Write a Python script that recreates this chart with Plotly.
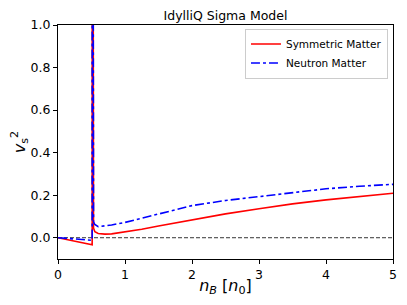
import plotly.graph_objects as go

# Symmetric matter
n_sym = [0.0, 0.1, 0.2, 0.3, 0.4, 0.51, 0.512, 0.518, 0.53, 0.55, 0.6, 0.7, 0.8, 1.0, 1.25, 1.5, 2.0, 2.5, 3.0, 3.5, 4.0, 4.5, 5.0]
cs2_sym = [0.0, -0.0065, -0.013, -0.0195, -0.026, -0.033, 3.0, 3.0, 0.045, 0.028, 0.02, 0.017, 0.018, 0.027, 0.04, 0.055, 0.085, 0.112, 0.136, 0.159, 0.178, 0.195, 0.209]

# Neutron matter
n_neu = [0.0, 0.1, 0.2, 0.3, 0.4, 0.51, 0.512, 0.518, 0.53, 0.55, 0.6, 0.7, 0.8, 1.0, 1.25, 1.5, 2.0, 2.5, 3.0, 3.5, 4.0, 4.5, 5.0]
cs2_neu = [0.0, -0.002, -0.004, -0.006, -0.009, -0.012, 3.0, 3.0, 0.075, 0.062, 0.052, 0.055, 0.06, 0.072, 0.092, 0.11, 0.151, 0.175, 0.194, 0.214, 0.23, 0.242, 0.251]

x_ticks = [0, 1, 2, 3, 4, 5]
y_ticks = [0.0, 0.2, 0.4, 0.6, 0.8, 1.0]

fig = go.Figure()
fig.add_trace(go.Scatter(x=n_sym, y=cs2_sym, mode="lines", name="Symmetric Matter",
                         line=dict(color="#ff0000", width=1.6)))
fig.add_trace(go.Scatter(x=n_neu, y=cs2_neu, mode="lines", name="Neutron Matter",
                         line=dict(color="#0000ff", width=1.6, dash="dashdot")))

fig.add_shape(type="line", xref="paper", x0=0, x1=1, yref="y", y0=0, y1=0,
              line=dict(color="black", width=0.8, dash="4px,2px"), layer="below")

axis_common = dict(showline=True, linecolor="black", linewidth=1, mirror=True,
                   ticks="outside", ticklen=4, tickcolor="black", tickwidth=1,
                   showgrid=False, zeroline=False, automargin=False,
                   tickfont=dict(family="DejaVu Sans", size=12.5, color="black"))

fig.update_xaxes(range=[0, 5], tickvals=x_ticks, ticktext=[str(v) for v in x_ticks],
                 title=dict(text="<i>n<sub>B</sub></i> [<i>n</i><sub>0</sub>]",
                            font=dict(family="DejaVu Sans", size=16, color="black"), standoff=6),
                 **axis_common)
fig.update_yaxes(range=[-0.1, 1.0], tickvals=y_ticks, ticktext=[f"{v:.1f}" for v in y_ticks],
                 title=dict(text="<i>v</i><sub>s</sub><sup>2</sup>",
                            font=dict(family="DejaVu Sans", size=16, color="black"), standoff=8),
                 **axis_common)

# page body has an 8px default margin, so the figure is sized and offset to suit
fig.update_layout(
    width=391, height=289,
    margin=dict(l=50, r=6, t=17, b=38),
    paper_bgcolor="white", plot_bgcolor="white",
    font=dict(family="DejaVu Sans", color="black"),
    title=dict(text="IdylliQ Sigma Model", x=0.5, xref="paper", xanchor="center",
               y=1, yref="paper", yanchor="bottom", pad=dict(b=5),
               font=dict(family="DejaVu Sans", size=12.5, color="black")),
    legend=dict(x=0.985, y=0.985, xanchor="right", yanchor="top",
                bgcolor="rgba(255,255,255,0.8)", bordercolor="#cccccc", borderwidth=1,
                font=dict(family="DejaVu Sans", size=10.5, color="black"),
                tracegroupgap=0, itemwidth=30),
    showlegend=True,
)

fig.write_html("out.html")
